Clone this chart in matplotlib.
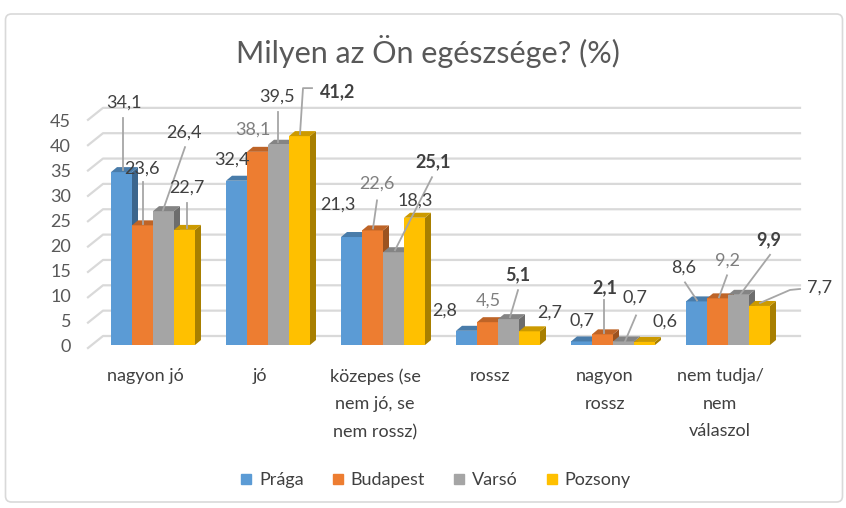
import numpy as np
import matplotlib
matplotlib.use("Agg")
import matplotlib.pyplot as plt
from matplotlib.patches import Polygon, FancyBboxPatch
from matplotlib.lines import Line2D
from matplotlib.transforms import IdentityTransform

# ----------------- data -----------------
categories = ["nagyon jó", "jó", "közepes (se\nnem jó, se\nnem rossz)", "rossz",
              "nagyon\nrossz", "nem tudja/\nnem\nválaszol"]
series = ["Prága", "Budapest", "Varsó", "Pozsony"]
praga = [34.1, 32.4, 21.3, 2.8, 0.7, 8.6]
budapest = [23.6, 38.1, 22.6, 4.5, 2.1, 9.2]
varso = [26.4, 39.5, 18.3, 5.1, 0.7, 9.9]
pozsony = [22.7, 41.2, 25.1, 2.7, 0.6, 7.7]
values = [praga, budapest, varso, pozsony]
yticks = list(range(0, 50, 5))

# which labels are bold / grey
bold_labels = {(1, 3), (2, 3), (3, 2), (4, 1), (5, 2)}
grey_labels = {(1, 1), (2, 1), (3, 1), (5, 1)}

# ----------------- style / layout -----------------
plt.rcParams["font.family"] = ["Lato", "DejaVu Sans"]
front_cols = ["#5B9BD5", "#ED7D31", "#A5A5A5", "#FFC000"]
TXT = "#404040"
GRID = "#D9D9D9"

# label offsets (px, x right / y down) from the bar's top centre
lab_off = [
    [(2.5, -69), (-0.5, -57), (20.5, -79), (2.5, -42)],
    [(-4.5, -21), (-4.5, -22), (-1.5, -48), (38.5, -44)],
    [(-13.5, -32), (4.5, -47), (21.5, -52), (18.5, -56)],
    [(-21.5, -20), (0.5, -22), (9.5, -44), (20.5, -19)],
    [(0.5, -21), (2.5, -47), (11.5, -44), (20.5, -20)],
    [(-12.5, -34), (10.5, -38), (30.5, -55), (60.5, -18)],
]
# leader lines (px offsets from bar top centre)
leaders = {
    (0, 0): [(1.5, -54), (1.5, -2)],
    (0, 1): [(0.5, -43), (0.5, -1)],
    (0, 2): [(21.5, -64), (-0.5, -1)],
    (0, 3): [(2.5, -27), (2.5, -2)],
    (1, 2): [(-0.5, -33), (-0.5, -3)],
    (1, 3): [(0.5, -2), (3.5, -48), (12.5, -48)],
    (2, 1): [(4.5, -30), (0.5, -2)],
    (2, 2): [(1.5, -2), (38.5, -75)],
    (3, 2): [(9.5, -29), (1.5, -2)],
    (4, 1): [(1.5, -34), (1.5, -1)],
    (4, 2): [(12.5, -26), (1.5, 0)],
    (5, 0): [(-11.5, -19), (0.5, -1)],
    (5, 1): [(9.5, -23), (1.5, -1)],
    (5, 2): [(31.5, -40), (1.5, 0)],
    (5, 3): [(0.5, -3), (30.5, -16), (40.5, -17)],
}


def shade(c, f):
    r, g, b = matplotlib.colors.to_rgb(c)
    return (r * f, g * f, b * f)


W, H = 846, 508
fig = plt.figure(figsize=(W / 100, H / 100), dpi=100)
ax = fig.add_axes([95.5 / W, (H - 345) / H, 690 / W, 45 * 5.07 / H])
ax.set_xlim(-0.5, 5.5)
ax.set_ylim(0, 45)
ax.axis("off")

ident = IdentityTransform()


def px(x, y, dx=0.0, dy=0.0):
    """data point -> display pixels, with offset (dx right, dy down)"""
    X, Y = ax.transData.transform((x, y))
    return X + dx, Y - dy


def poly(pts, color, z):
    ax.add_patch(Polygon(pts, closed=True, transform=ident, fc=color, ec="none",
                         zorder=z, clip_on=False))


def line(pts, color, lw, z):
    ax.add_line(Line2D([p[0] for p in pts], [p[1] for p in pts], transform=ident,
                       color=color, lw=lw, zorder=z, clip_on=False))


def text(p, s, z=40, **kw):
    ax.text(p[0], p[1], s, transform=ident, zorder=z, clip_on=False, **kw)


# outer frame
fig.add_artist(FancyBboxPatch((5.5, 6), 837, 488, boxstyle="round,pad=0,rounding_size=6",
                              transform=ident, fc="white", ec=GRID, lw=1.2, zorder=-5))

# back wall grid + left wall diagonals
for v in yticks:
    p0 = px(-0.5, v, -7.5, 3)
    p1 = px(-0.5, v, 7.5, -9)
    p2 = px(5.5, v, 14.5, -9)
    line([p0, p1, p2], GRID, 1.6, 0)
    text(px(-0.5, v, -24.5, 2 + 0.07 * v), str(v), ha="right", va="center",
         fontsize=13, color="#595959")

# bars (front face, side face, top face)
bw = 21 / 115
ddx, ddy = 6, 5
for j, vals in enumerate(values):
    xs = np.arange(len(categories)) + (j - 1.5) * bw
    z = 3 + 3 * j
    for x, v in zip(xs, vals):
        l, r = x - bw / 2, x + bw / 2
        bl, tl, tr, br = px(l, 0), px(l, v), px(r, v), px(r, 0)
        side = [br, tr, (tr[0] + ddx, tr[1] + ddy), (br[0] + ddx, br[1] + ddy)]
        top = [tl, tr, (tr[0] + ddx, tr[1] + ddy), (tl[0] + ddx, tl[1] + ddy)]
        poly([bl, tl, tr, br], front_cols[j], z)
        poly(side, shade(front_cols[j], 0.66), z + 1)
        poly(top, shade(front_cols[j], 0.8), z + 2)

# data labels and leader lines
for i in range(len(categories)):
    for j, vals in enumerate(values):
        v = vals[i]
        xc = i + (j - 1.5) * bw
        key = (i, j)
        if key in leaders:
            line([px(xc, v, dx, dy) for dx, dy in leaders[key]], "#A6A6A6", 1.3, 30)
        dx, dy = lab_off[i][j]
        text(px(xc, v, dx, dy), f"{v:.1f}".replace(".", ","), z=31, ha="center",
             va="center", fontsize=13,
             color="#7F7F7F" if key in grey_labels else TXT,
             fontweight="bold" if key in bold_labels else "normal")

# category labels
for i, cat in enumerate(categories):
    text(px(i, 0, -8, 23), cat, ha="center", va="top", fontsize=13, color=TXT,
         linespacing=1.9)

# title
fig.text(428 / W, 1 - 51 / H, "Milyen az Ön egészsége? (%)", ha="center", va="center",
         fontsize=22, color="#595959")

# legend
handles = [Line2D([], [], marker="s", linestyle="none", color=c, markersize=7.5)
           for c in front_cols]
fig.legend(handles, series, loc="center", bbox_to_anchor=(435 / W, 1 - 480 / H), ncol=4,
           frameon=False, fontsize=13, handlelength=0.8, handletextpad=0.3,
           columnspacing=1.5, labelcolor=TXT)

fig.savefig("out.png", dpi=100)
